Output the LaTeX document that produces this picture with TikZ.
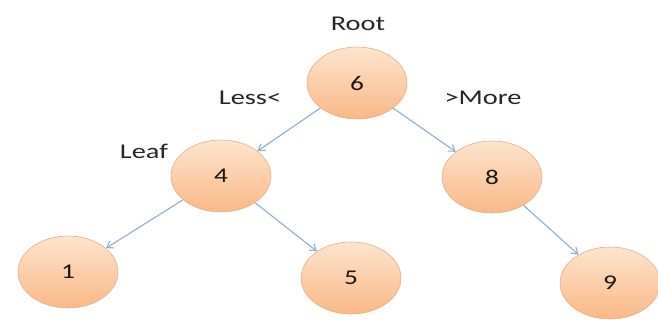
\documentclass[tikz,border=0pt]{standalone}
\usepackage{fontspec}
\setmainfont{Carlito}
\usetikzlibrary{arrows.meta,shapes.geometric}
\definecolor{linkblue}{RGB}{140,176,210}
\definecolor{peachtop}{RGB}{253,228,206}
\definecolor{peachbottom}{RGB}{249,184,134}
\definecolor{peachrim}{RGB}{226,176,140}
\begin{document}
\begin{tikzpicture}[x=1pt,y=-1pt,
  treenode/.style={ellipse,minimum width=100pt,minimum height=72pt,inner sep=0pt,
    top color=peachtop,bottom color=peachbottom,
    draw=peachrim,line width=0.6pt},
  digit/.style={font=\fontsize{21}{23}\selectfont,xscale=1.3,text=black!90},
  edgelabel/.style={font=\fontsize{21}{23}\selectfont,xscale=1.35,text=black!85},
  branch/.style={draw=linkblue,line width=1.1pt,
    -{Straight Barb[length=6pt,width=8pt]}}]
\useasboundingbox (0,0) rectangle (658,321);
\fill[white] (0,0) rectangle (658,321);
\node[treenode] (n6) at (357,83) {};
\node[treenode] (n4) at (221,176) {};
\node[treenode] (n8) at (492,177) {};
\node[treenode] (n1) at (68,272) {};
\node[treenode] (n5) at (351,278) {};
\node[treenode] (n9) at (610,283) {};
\node[digit] at (n6) {6};
\node[digit] at (n4) {4};
\node[digit] at (n8) {8};
\node[digit] at (n1) {1};
\node[digit] at (n5) {5};
\node[digit] at (n9) {9};
\node[edgelabel] (lroot) at (358,24) {Root};
\node[edgelabel] (lless) at (250,98) {Less<};
\node[edgelabel] (lmore) at (483,98) {>More};
\node[edgelabel] (lleaf) at (144,151) {Leaf};
\draw[branch] (n6) -- (n4);
\draw[branch] (n6) -- (n8);
\draw[branch] (n4) -- (n1);
\draw[branch] (n4) -- (n5);
\draw[branch] (n8) -- (n9);
\end{tikzpicture}
\end{document}
